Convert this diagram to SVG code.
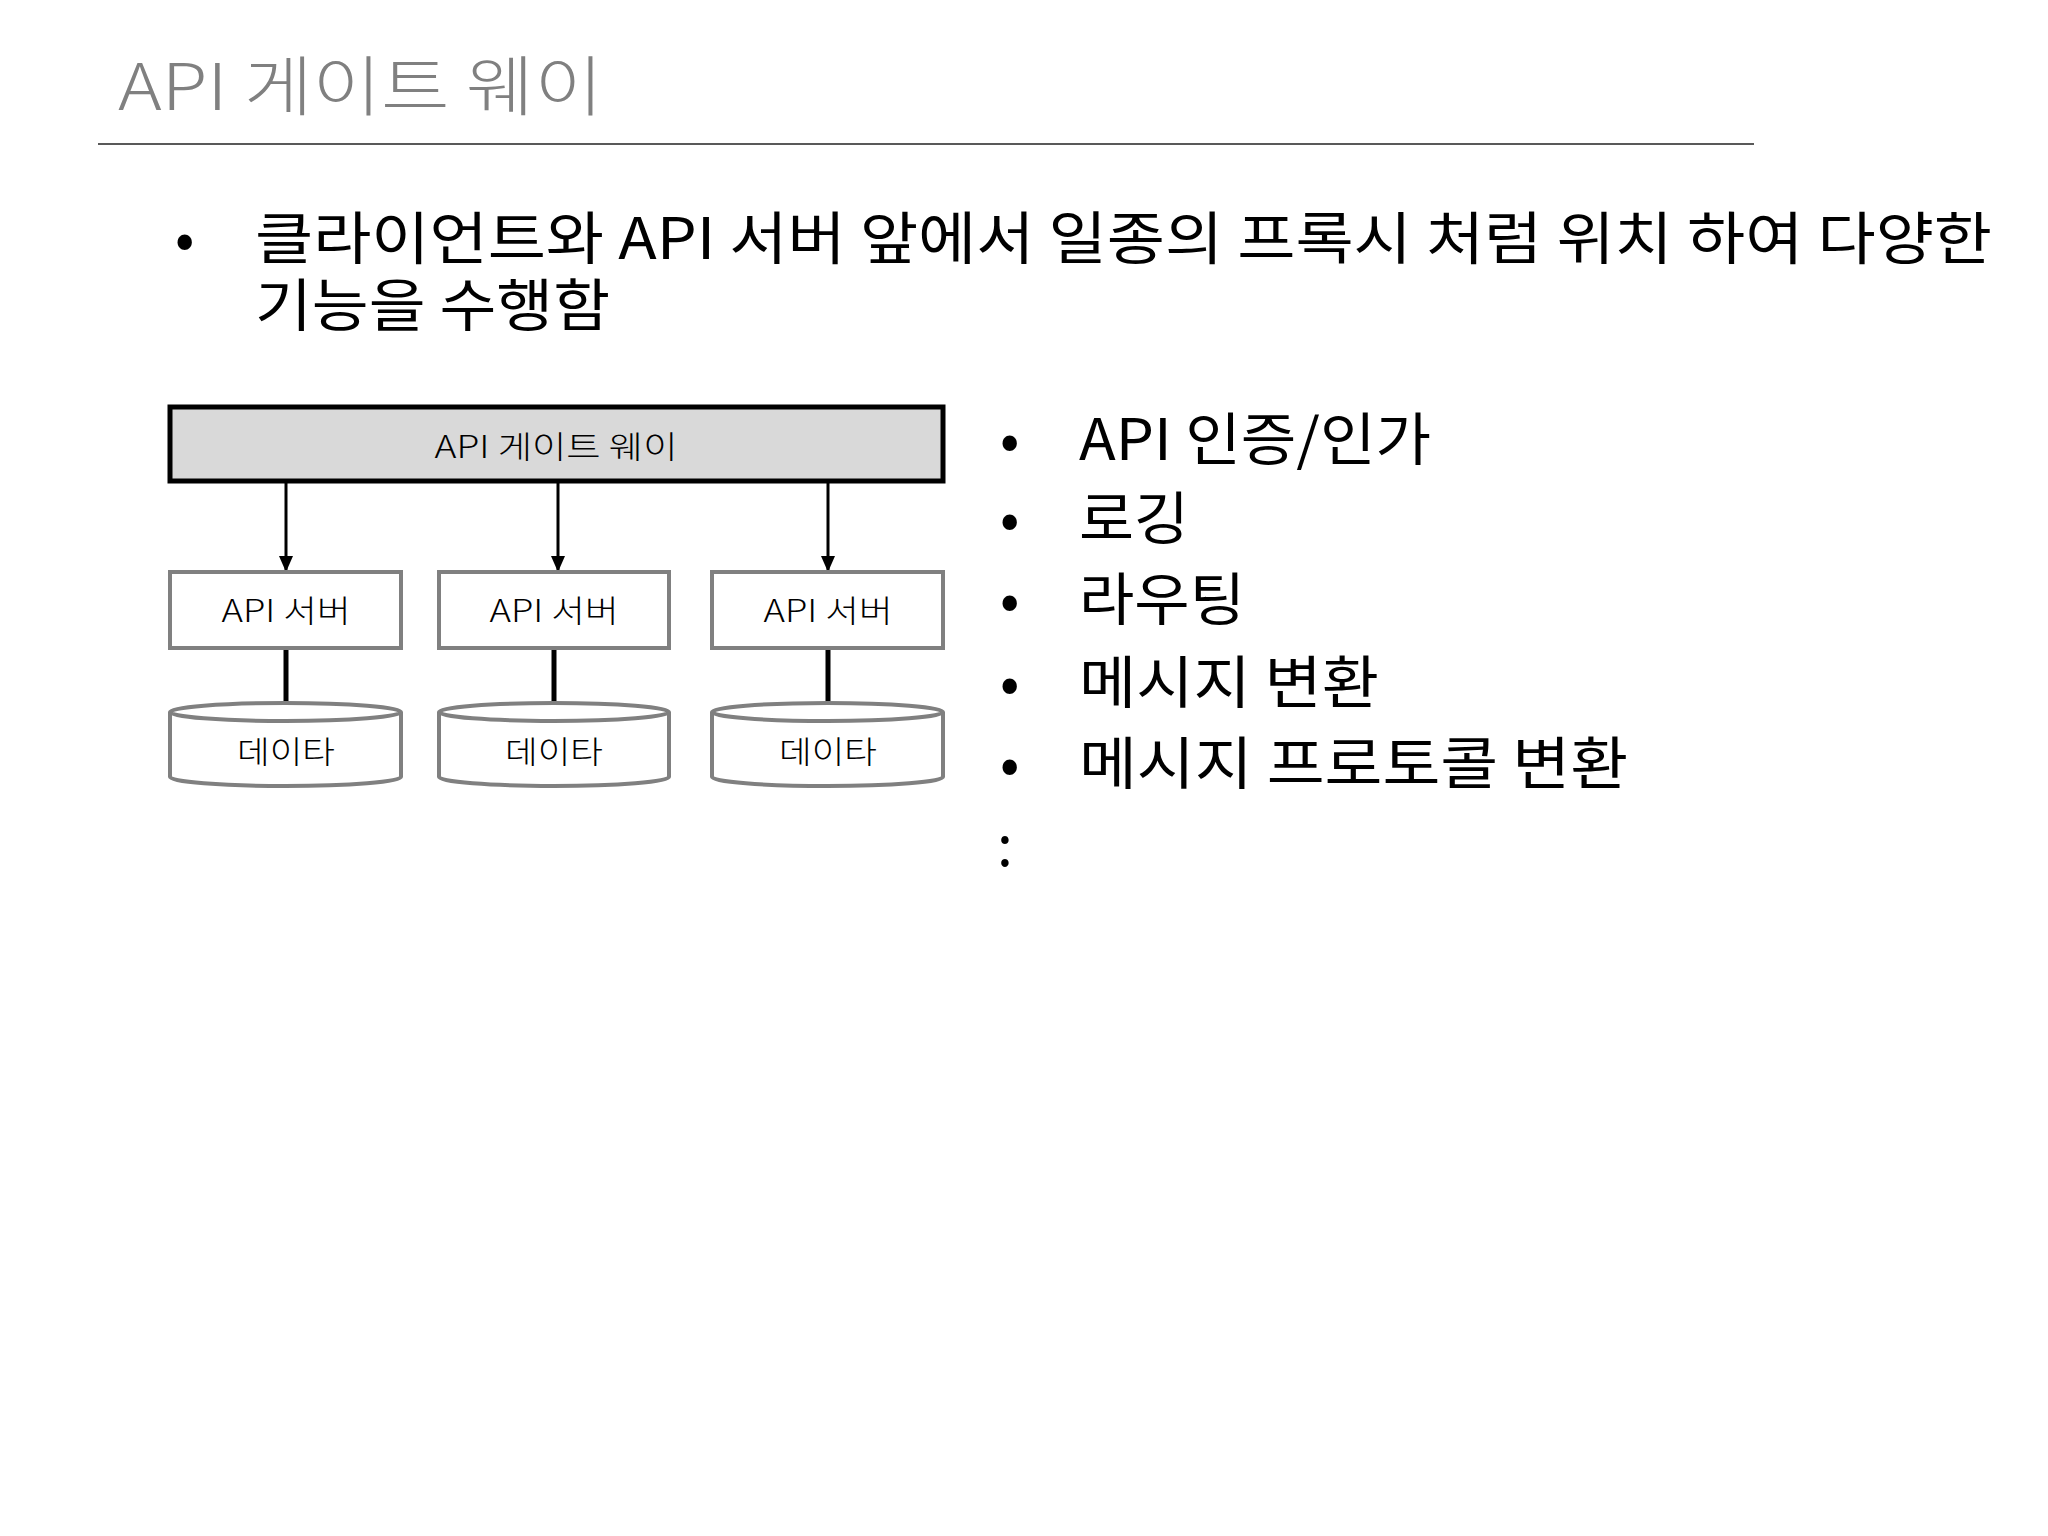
<svg xmlns="http://www.w3.org/2000/svg" width="2048" height="1536" viewBox="0 0 2048 1536">
<style>
text{font-family:"Noto Sans CJK KR","Noto Sans",sans-serif}
.t{font-size:57px;fill:#000}
.s{font-size:31px;fill:#000;text-anchor:middle;font-weight:300}
.srv{fill:#fff;stroke:#808080;stroke-width:4}
.db{fill:#fff;stroke:#808080;stroke-width:4}
</style>
<defs><marker id="ah" markerWidth="16" markerHeight="14" refX="16" refY="7" orient="auto" markerUnits="userSpaceOnUse" viewBox="0 0 16 14"><path d="M0,0 L16,7 L0,14z" fill="#000" stroke="none"/></marker></defs>
<rect width="2048" height="1536" fill="#fff"/>
<text x="118" y="110" font-size="65" fill="#808080" font-weight="300" textLength="485" lengthAdjust="spacingAndGlyphs">API 게이트 웨이</text>
<line x1="98" y1="144" x2="1754" y2="144" stroke="#595959" stroke-width="2"/>
<text class="t" x="175" y="259">•</text>
<text class="t" x="255" y="259" textLength="1737" lengthAdjust="spacingAndGlyphs">클라이언트와 API 서버 앞에서 일종의 프록시 처럼 위치 하여 다양한</text>
<text class="t" x="255" y="326" textLength="355" lengthAdjust="spacingAndGlyphs">기능을 수행함</text>
<g id="gateway"><rect x="170" y="407" width="773" height="74" fill="#d9d9d9" stroke="#000" stroke-width="5"/><text class="s" x="556" y="458" textLength="243" lengthAdjust="spacingAndGlyphs">API 게이트 웨이</text></g>
<g id="connectors" stroke="#000" stroke-width="3">
<line x1="286" y1="481" x2="286" y2="572" marker-end="url(#ah)"/>
<line x1="558" y1="481" x2="558" y2="572" marker-end="url(#ah)"/>
<line x1="828" y1="481" x2="828" y2="572" marker-end="url(#ah)"/>
<line x1="286" y1="648" x2="286" y2="705" stroke-width="5"/>
<line x1="554" y1="648" x2="554" y2="705" stroke-width="5"/>
<line x1="828" y1="648" x2="828" y2="705" stroke-width="5"/>
</g>
<g id="server1"><rect class="srv" x="170" y="572" width="231" height="76"/><text class="s" x="286" y="622" textLength="129" lengthAdjust="spacingAndGlyphs">API 서버</text></g>
<g id="server2"><rect class="srv" x="439" y="572" width="230" height="76"/><text class="s" x="554" y="622" textLength="129" lengthAdjust="spacingAndGlyphs">API 서버</text></g>
<g id="server3"><rect class="srv" x="712" y="572" width="231" height="76"/><text class="s" x="828" y="622" textLength="129" lengthAdjust="spacingAndGlyphs">API 서버</text></g>
<g id="db1"><path class="db" d="M170,712 V777 A115.5,9 0 0 0 401,777 V712 A115.5,9 0 0 0 170,712 A115.5,9 0 0 0 401,712"/><text class="s" x="286" y="763" textLength="98" lengthAdjust="spacingAndGlyphs">데이타</text></g>
<g id="db2"><path class="db" d="M439,712 V777 A115,9 0 0 0 669,777 V712 A115,9 0 0 0 439,712 A115,9 0 0 0 669,712"/><text class="s" x="554" y="763" textLength="98" lengthAdjust="spacingAndGlyphs">데이타</text></g>
<g id="db3"><path class="db" d="M712,712 V777 A115.5,9 0 0 0 943,777 V712 A115.5,9 0 0 0 712,712 A115.5,9 0 0 0 943,712"/><text class="s" x="828" y="763" textLength="98" lengthAdjust="spacingAndGlyphs">데이타</text></g>
<g class="t">
<text x="1000" y="460">•</text><text x="1079" y="460" textLength="352" lengthAdjust="spacingAndGlyphs">API 인증/인가</text>
<text x="1000" y="539">•</text><text x="1079" y="539" textLength="110" lengthAdjust="spacingAndGlyphs">로깅</text>
<text x="1000" y="620">•</text><text x="1079" y="620" textLength="166" lengthAdjust="spacingAndGlyphs">라우팅</text>
<text x="1000" y="703">•</text><text x="1079" y="703" textLength="300" lengthAdjust="spacingAndGlyphs">메시지 변환</text>
<text x="1000" y="784">•</text><text x="1079" y="784" textLength="549" lengthAdjust="spacingAndGlyphs">메시지 프로토콜 변환</text>
<text x="997" y="866">:</text>
</g>
</svg>
